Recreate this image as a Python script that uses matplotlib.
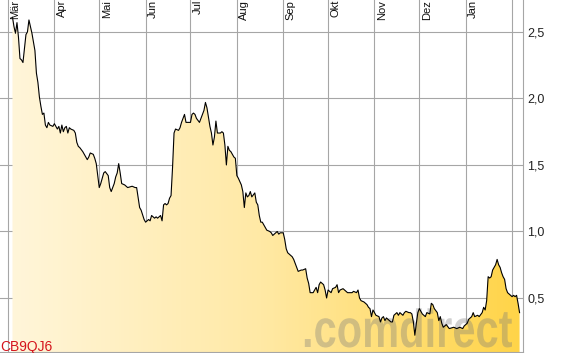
import numpy as np
import pandas as pd
import matplotlib
matplotlib.use('Agg')
import matplotlib.pyplot as plt
import matplotlib.transforms as mtransforms
from matplotlib.colors import LinearSegmentedColormap
from matplotlib.patches import PathPatch
from matplotlib.textpath import TextPath
from matplotlib.font_manager import FontProperties

plt.rcParams['font.family'] = ['Liberation Sans', 'DejaVu Sans']

start = pd.Timestamp('2010-03-01')

# days after 1 March, closing price
days = [3, 4, 5, 6, 7, 8, 9, 10, 12, 13, 14, 15, 16, 18, 19, 20, 21, 22, 23, 24,
        25, 26, 27, 28, 30, 31, 33, 34, 35, 36, 37, 38, 39, 40, 41, 42, 44, 45, 46, 47,
        48, 50, 51, 53, 54, 55, 57, 58, 59, 61, 62, 63, 64, 65, 67, 68, 69, 71, 72, 73,
        74, 75, 76, 78, 80, 83, 85, 86, 88, 89, 91, 92, 94, 95, 96, 98, 99, 100, 102, 103,
        104, 105, 106, 107, 108, 109, 110, 111, 112, 114, 115, 116, 118, 119, 120, 122, 123, 124, 125, 126,
        128, 129, 131, 132, 133, 134, 135, 136, 137, 138, 139, 140, 141, 142, 143, 144, 145, 146, 147, 148,
        149, 150, 151, 152, 153, 154, 156, 157, 158, 159, 160, 161, 162, 163, 165, 166, 167, 168, 169, 170,
        172, 173, 175, 176, 177, 180, 181, 182, 184, 185, 186, 187, 190, 191, 192, 194, 196, 197, 199, 200,
        201, 202, 204, 205, 206, 207, 208, 209, 211, 212, 213, 214, 216, 217, 219, 220, 221, 222, 224, 225,
        227, 228, 230, 231, 233, 234, 235, 236, 238, 240, 241, 242, 243, 244, 245, 246, 248, 249, 250, 251,
        252, 253, 255, 256, 257, 258, 260, 261, 262, 264, 265, 266, 268, 269, 270, 271, 272, 273, 274, 275,
        277, 279, 280, 282, 283, 284, 285, 287, 288, 289, 290, 291, 293, 295, 298, 300, 302, 304, 305, 307,
        308, 310, 311, 312, 314, 315, 317, 318, 319, 320, 321, 322, 323, 324, 326, 327, 328, 329, 330, 331,
        332, 333, 334, 336, 337, 338, 339, 340, 341, 342]

price = [2.61, 2.54, 2.49, 2.57, 2.46, 2.30, 2.29, 2.27, 2.48, 2.50, 2.59, 2.54, 2.49, 2.36, 2.19, 2.12, 2.01, 1.94, 1.88, 1.89,
         1.80, 1.78, 1.82, 1.80, 1.79, 1.81, 1.77, 1.79, 1.74, 1.80, 1.75, 1.78, 1.79, 1.74, 1.78, 1.77, 1.76, 1.74, 1.67, 1.64,
         1.63, 1.60, 1.58, 1.54, 1.56, 1.59, 1.58, 1.55, 1.51, 1.33, 1.36, 1.40, 1.44, 1.45, 1.42, 1.33, 1.30, 1.36, 1.41, 1.44,
         1.51, 1.44, 1.36, 1.35, 1.33, 1.34, 1.33, 1.33, 1.18, 1.16, 1.09, 1.07, 1.09, 1.08, 1.12, 1.10, 1.11, 1.10, 1.12, 1.08,
         1.20, 1.21, 1.20, 1.21, 1.25, 1.27, 1.48, 1.74, 1.77, 1.76, 1.78, 1.82, 1.88, 1.82, 1.82, 1.82, 1.88, 1.89, 1.88, 1.85,
         1.82, 1.85, 1.91, 1.97, 1.93, 1.86, 1.79, 1.74, 1.65, 1.71, 1.83, 1.74, 1.74, 1.74, 1.75, 1.74, 1.65, 1.50, 1.64, 1.61,
         1.60, 1.58, 1.56, 1.55, 1.42, 1.40, 1.35, 1.30, 1.18, 1.29, 1.26, 1.27, 1.30, 1.26, 1.29, 1.22, 1.20, 1.12, 1.07, 1.07,
         1.03, 1.01, 1.00, 0.99, 0.97, 1.00, 0.98, 0.99, 0.99, 0.94, 0.87, 0.84, 0.81, 0.79, 0.76, 0.70, 0.71, 0.71, 0.72, 0.65,
         0.61, 0.54, 0.54, 0.56, 0.58, 0.54, 0.60, 0.62, 0.60, 0.56, 0.50, 0.56, 0.54, 0.57, 0.58, 0.60, 0.54, 0.56, 0.57, 0.56,
         0.54, 0.54, 0.54, 0.55, 0.54, 0.56, 0.50, 0.48, 0.47, 0.45, 0.43, 0.42, 0.36, 0.41, 0.39, 0.37, 0.36, 0.32, 0.35, 0.36,
         0.33, 0.35, 0.33, 0.32, 0.32, 0.37, 0.39, 0.37, 0.39, 0.37, 0.39, 0.40, 0.39, 0.39, 0.38, 0.32, 0.22, 0.31, 0.39, 0.42,
         0.38, 0.36, 0.39, 0.38, 0.46, 0.45, 0.42, 0.39, 0.33, 0.36, 0.31, 0.28, 0.30, 0.27, 0.28, 0.27, 0.28, 0.27, 0.29, 0.31,
         0.34, 0.36, 0.39, 0.36, 0.37, 0.36, 0.39, 0.43, 0.41, 0.48, 0.66, 0.65, 0.66, 0.71, 0.75, 0.79, 0.75, 0.73, 0.69, 0.66,
         0.64, 0.57, 0.54, 0.52, 0.51, 0.52, 0.51, 0.52, 0.46, 0.39]

month_names = ['Mär', 'Apr', 'Mai', 'Jun', 'Jul', 'Aug', 'Sep', 'Okt', 'Nov', 'Dez', 'Jan', '']
y_ticks = [0.5, 1.0, 1.5, 2.0, 2.5]
y_labels = ['0,5', '1,0', '1,5', '2,0', '2,5']

months = pd.date_range('2010-03-01', '2011-02-01', freq='MS')
month_pos = np.asarray((months - start).days)

W, H = 581, 353
fig = plt.figure(figsize=(W / 100, H / 100), dpi=100)
ax = fig.add_axes([0, 1 / H, 523 / W, 352 / H])

x0, x1 = -5.35, 344.3
y0, y1 = 0.094, 2.74

# gradient fill under the curve
cmap = LinearSegmentedColormap.from_list('gold', ['#fff6dc', '#ffe9a5', '#ffd447'])
grad = np.linspace(0, 1, 256).reshape(1, -1)
im = ax.imshow(grad, extent=[x0, x1, y0, y1], aspect='auto', cmap=cmap,
               origin='lower', zorder=1, interpolation='bilinear')
poly = ax.fill_between(days, price, y0, facecolor='none', edgecolor='none')
clip = PathPatch(poly.get_paths()[0], transform=ax.transData, facecolor='none', edgecolor='none')
ax.add_patch(clip)
im.set_clip_path(clip)

# watermark
fp = FontProperties(family='Liberation Sans', weight='bold')
tp = TextPath((0, 0), '.comdirect', size=1, prop=fp)
vx = tp.vertices[:, 0]
sx = 210 / (vx.max() - vx.min())
sy = 39 / 0.729
tr = mtransforms.Affine2D().translate(-vx.min(), 0).scale(sx, sy).translate(302, H - 347)
wm = PathPatch(tp, transform=tr, facecolor='#7a7a7a', edgecolor='none', alpha=0.35, zorder=2)
wm.set_clip_on(False)
ax.add_patch(wm)

ax.plot(days, price, color='black', lw=0.8, zorder=3)

ax.set_xlim(x0, x1)
ax.set_ylim(y0, y1)

ax.set_xticks(month_pos)
ax.set_xticklabels([])
ax.tick_params(axis='x', length=0)
ax.yaxis.tick_right()
ax.set_yticks(y_ticks)
ax.set_yticklabels(y_labels)
ax.tick_params(axis='y', length=0, pad=3, labelsize=9, labelcolor='#222222')
ax.grid(True, color='#a6a6a6', lw=0.8, zorder=0)
ax.set_axisbelow(True)

for s in ['left', 'top']:
    ax.spines[s].set_visible(False)
for s in ['right', 'bottom']:
    ax.spines[s].set_color('#a6a6a6')
    ax.spines[s].set_linewidth(0.8)

lab_tr = mtransforms.offset_copy(
    mtransforms.blended_transform_factory(ax.transData, ax.transAxes),
    fig=fig, x=2.5, y=0, units='dots')
for pos, name in zip(month_pos, month_names):
    ax.text(pos, 1.0, name, transform=lab_tr, rotation=90, ha='left', va='top',
            fontsize=8, color='#111111')

fig.text(0, 2 / H, 'CB9QJ6', color='#d4141c', fontsize=10, va='baseline', ha='left')

fig.savefig('out.png', dpi=100)
